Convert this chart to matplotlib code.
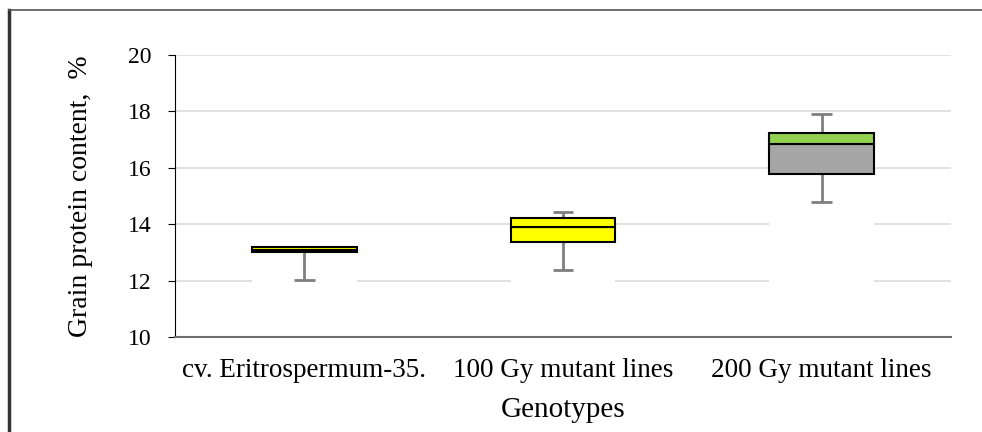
import matplotlib.pyplot as plt
import numpy as np

genotypes = ["cv. Eritrospermum-35.", "100 Gy mutant lines", "200 Gy mutant lines"]
minimum = [12.02, 12.37, 14.79]
q1 = [13.01, 13.36, 15.78]
median = [13.10, 13.89, 16.83]
q3 = [13.19, 14.21, 17.24]
maximum = [13.19, 14.42, 17.91]
lower_colors = ["#FFFF00", "#FFFF00", "#A6A6A6"]
upper_colors = ["#FFFF00", "#FFFF00", "#92D050"]

plt.rcParams["font.family"] = ["Liberation Serif", "DejaVu Serif"]

fig = plt.figure(figsize=(9.82, 4.32), dpi=100)
ax = fig.add_axes([175 / 982, 1 - 337 / 432, 776 / 982, 282 / 432])

x = np.arange(len(genotypes))
w = 0.405
base = 10
lo = np.array(q1) - base
mid = np.array(median) - np.array(q1)
up = np.array(q3) - np.array(median)

# white bottom segment hides the gridlines, like the Excel stacked-bar trick
ax.bar(x, lo, w, bottom=base, color="white", zorder=1)
ax.bar(x, mid, w, bottom=q1, color=lower_colors, edgecolor="black", lw=1.5, zorder=3)
ax.bar(x, up, w, bottom=median, color=upper_colors, edgecolor="black", lw=1.5, zorder=3)

wc = "#7F7F7F"
for xi, mn, a, b, mx in zip(x, minimum, q1, q3, maximum):
    if a - mn > 0.01:
        ax.vlines(xi, mn, a, color=wc, lw=2, zorder=2)
        ax.hlines(mn, xi - 0.04, xi + 0.04, color=wc, lw=2, zorder=2)
    if mx - b > 0.01:
        ax.vlines(xi, b, mx, color=wc, lw=2, zorder=2)
        ax.hlines(mx, xi - 0.04, xi + 0.04, color=wc, lw=2, zorder=2)

ax.set_xlim(-0.5, 2.5)
ax.set_ylim(10, 20)
ax.set_yticks([10, 12, 14, 16, 18, 20])
ax.set_xticks(x, genotypes)
ax.yaxis.grid(True, color="#DCDCDC", lw=1.2, zorder=0)
ax.set_axisbelow(True)
for s in ["top", "right"]:
    ax.spines[s].set_visible(False)
ax.spines["left"].set_color("black")
ax.spines["bottom"].set_color("#6E6E6E")
ax.spines["bottom"].set_linewidth(1.5)
ax.tick_params(axis="y", length=5, labelsize=17, pad=12)
ax.tick_params(axis="x", length=0, labelsize=19.5, pad=15)
ax.set_ylabel("Grain protein content,  %", fontsize=20, labelpad=25)
ax.set_xlabel("Genotypes", fontsize=21, labelpad=10)

# outer frame of the original figure
fig.add_artist(plt.Line2D([9 / 982, 9 / 982], [0, 1 - 10 / 432], color="#333333", lw=2.5))
fig.add_artist(plt.Line2D([9 / 982, 1], [1 - 10 / 432, 1 - 10 / 432], color="#555555", lw=1.2))

fig.savefig("out.png", dpi=100)
